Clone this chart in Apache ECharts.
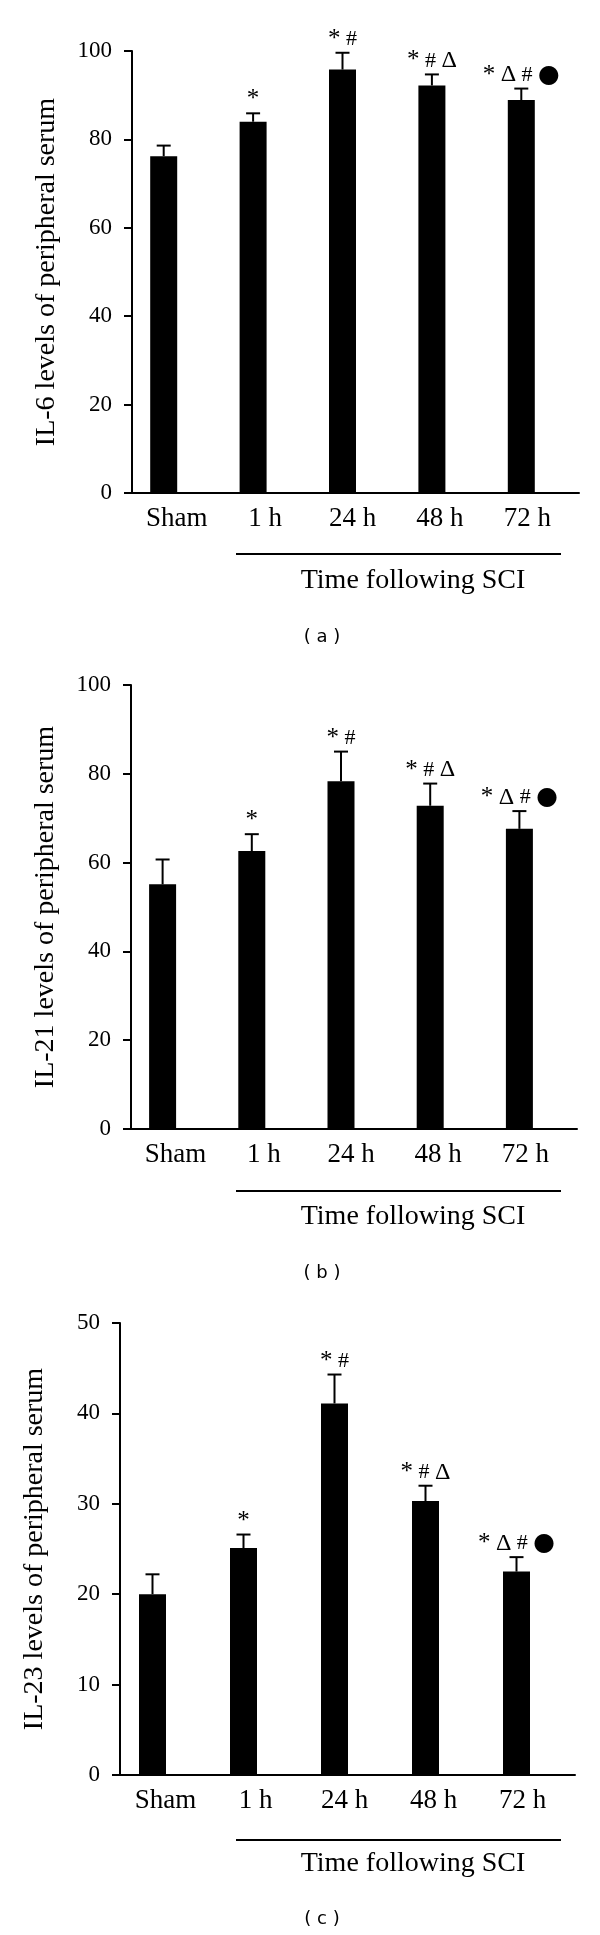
<!DOCTYPE html>
<html>
<head>
<meta charset="utf-8">
<script src="https://cdn.jsdelivr.net/npm/echarts@6/dist/echarts.min.js"></script>
<style>
html,body{margin:0;padding:0;background:#fff;}
#chart{width:600px;height:1935px;}
</style>
</head>
<body>
<div id="chart"></div>
<script>
// ---- data ----
const categories = ['Sham', '1 h', '24 h', '48 h', '72 h'];
const il6Mean  = [76.2, 84.0, 95.8, 92.2, 88.9];
const il6Err   = [2.4, 1.9, 3.8, 2.5, 2.6];
const il21Mean = [55.1, 62.6, 78.3, 72.8, 67.6];
const il21Err  = [5.6, 3.8, 6.7, 5.0, 4.0];
const il23Mean = [20.0, 25.1, 41.1, 30.3, 22.5];
const il23Err  = [2.2, 1.5, 3.2, 1.7, 1.6];
const marks = ['', '*', '* #', '* # \u0394', '* \u0394 # \u25CF'];
const yNames = ['IL-6 levels of peripheral serum', 'IL-21 levels of peripheral serum', 'IL-23 levels of peripheral serum'];
const yMax = [100, 100, 50];
const yInterval = [20, 20, 10];
const xTitle = 'Time following SCI';
const panelLabels = ['( a )', '( b )', '( c )'];

// ---- layout / style ----
const SERIF = '"Liberation Serif", "Times New Roman", serif';
const grids = [
  {left: 132, top: 51, width: 447, height: 442},
  {left: 131, top: 685, width: 446, height: 444},
  {left: 120, top: 1323, width: 455, height: 452}
];
const BAR_W = 27;
const SPACER_W = 26;
const OFFSET = -SPACER_W / 2;
const LABEL_PAD_RIGHT = [0, 2, 6, 10, 14];

const catRich = {};
LABEL_PAD_RIGHT.forEach((p, i) => {
  catRich['l' + i] = {fontFamily: SERIF, fontSize: 27, color: '#000', padding: [0, p, 0, 0]};
});

const symRich = {
  s: {fontFamily: SERIF, fontSize: 25, fill: '#000'},
  h: {fontFamily: SERIF, fontSize: 22, fill: '#000'},
  d: {fontFamily: SERIF, fontSize: 24, fill: '#000'},
  c: {fontFamily: '"DejaVu Sans", sans-serif', fontSize: 25, fill: '#000'},
  w: {fontFamily: SERIF, fontSize: 22, fill: '#000'}
};
function richMark(str) {
  if (!str) return '';
  return str.split(' ').map(ch => {
    const key = ch === '*' ? 's' : ch === '#' ? 'h' : ch === '\u0394' ? 'd' : 'c';
    return '{' + key + '|' + ch + '}';
  }).join('{w| }');
}

const panels = [
  {mean: il6Mean, err: il6Err},
  {mean: il21Mean, err: il21Err},
  {mean: il23Mean, err: il23Err}
];

const xAxes = [], yAxes = [], series = [], graphics = [];

panels.forEach((p, k) => {
  xAxes.push({
    type: 'category', gridIndex: k, data: categories,
    axisLine: {lineStyle: {color: '#000', width: 2}},
    axisTick: {inside: true, length: 8, lineStyle: {color: '#000', width: 2}},
    axisLabel: {color: '#000', fontFamily: SERIF, fontSize: 27, margin: 12, interval: 0, hideOverlap: false,
      formatter: (v, idx) => '{l' + idx + '|' + v + '}', rich: catRich}
  });
  yAxes.push({
    type: 'value', gridIndex: k, min: 0, max: yMax[k], interval: yInterval[k],
    name: yNames[k], nameLocation: 'middle', nameRotate: 90, nameGap: 71,
    nameTextStyle: {color: '#000', fontFamily: SERIF, fontSize: 28},
    splitLine: {show: false},
    axisLine: {show: true, lineStyle: {color: '#000', width: 2}},
    axisTick: {show: true, length: 8, lineStyle: {color: '#000', width: 2}},
    axisLabel: {color: '#000', fontFamily: SERIF, fontSize: 23, margin: 20}
  });
  series.push({
    type: 'bar', xAxisIndex: k, yAxisIndex: k, data: p.mean,
    barWidth: BAR_W, barGap: '0%',
    itemStyle: {color: '#000'}, silent: true
  });
  series.push({
    type: 'bar', xAxisIndex: k, yAxisIndex: k, data: p.mean,
    barWidth: SPACER_W, barGap: '0%',
    itemStyle: {color: 'rgba(0,0,0,0)'}, silent: true
  });
  series.push({
    type: 'custom', xAxisIndex: k, yAxisIndex: k, silent: true,
    data: p.mean.map((m, i) => [i, m, m + p.err[i]]),
    z: 5,
    renderItem: function (params, api) {
      const i = api.value(0);
      const p0 = api.coord([i, api.value(1)]);
      const p1 = api.coord([i, api.value(2)]);
      const x = p0[0] + OFFSET;
      return {
        type: 'group',
        children: [
          {type: 'line', shape: {x1: x, y1: p0[1], x2: x, y2: p1[1]}, style: {stroke: '#000', lineWidth: 2}},
          {type: 'line', shape: {x1: x - 7, y1: p1[1], x2: x + 7, y2: p1[1]}, style: {stroke: '#000', lineWidth: 2}},
          {type: 'text', style: {text: richMark(marks[i]), rich: symRich, x: x, y: p1[1] - 1,
            align: 'center', verticalAlign: 'bottom', textAlign: 'center', textVerticalAlign: 'bottom',
            fontFamily: SERIF, fontSize: 24, fill: '#000'}}
        ]
      };
    }
  });
});

const sepY = [554, 1191, 1840];
const titleY = [581, 1217, 1864];
const labY = [637, 1273, 1919];
for (let k = 0; k < 3; k++) {
  graphics.push({type: 'line', shape: {x1: 236, y1: sepY[k], x2: 561, y2: sepY[k]}, style: {stroke: '#000', lineWidth: 2}});
  graphics.push({type: 'text', x: 413, y: titleY[k], style: {text: xTitle, font: '28px ' + SERIF, fill: '#000', align: 'center', verticalAlign: 'middle', textAlign: 'center', textVerticalAlign: 'middle'}});
  graphics.push({type: 'text', x: 322, y: labY[k], style: {text: panelLabels[k], font: '18px "DejaVu Sans", sans-serif', fill: '#000', align: 'center', verticalAlign: 'middle', textAlign: 'center', textVerticalAlign: 'middle'}});
}

const chart = echarts.init(document.getElementById('chart'), null, {renderer: 'canvas'});
chart.setOption({
  animation: false,
  backgroundColor: '#fff',
  grid: grids,
  xAxis: xAxes,
  yAxis: yAxes,
  series: series,
  graphic: graphics
});
</script>
</body>
</html>
